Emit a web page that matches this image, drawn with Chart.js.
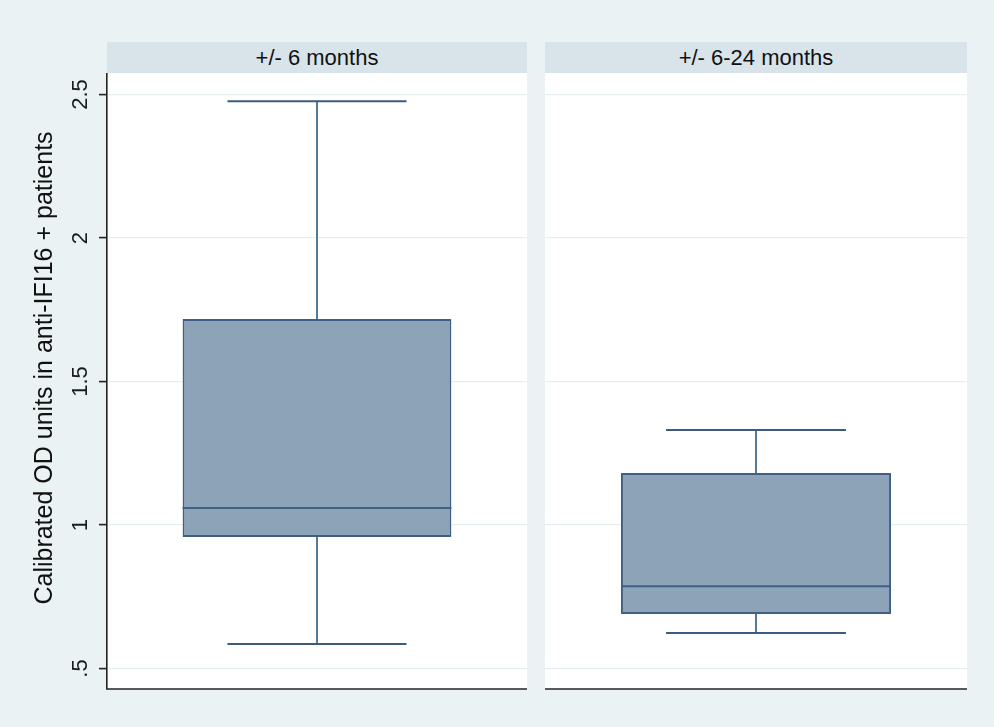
<!DOCTYPE html>
<html>
<head>
<meta charset="utf-8">
<title>Calibrated OD units</title>
<script src="https://cdn.jsdelivr.net/npm/chart.js@4/dist/chart.umd.min.js"></script>
<style>
  html, body { margin: 0; padding: 0; }
  body {
    width: 994px; height: 727px; overflow: hidden; position: relative;
    background: #EAF2F4;
    font-family: "Liberation Sans", Arial, sans-serif;
  }
  .strip {
    position: absolute; top: 42px; height: 31px; line-height: 31px;
    background: #D8E4EA; color: #111; font-size: 22px; text-align: center;
  }
  .panel { position: absolute; top: 73px; }
  canvas { display: block; }
</style>
</head>
<body>
<div class="strip" id="strip0" style="left:107px;width:420px"></div>
<div class="strip" id="strip1" style="left:545px;width:422px"></div>
<div class="panel" style="left:0px"><canvas id="c0" width="527" height="620"></canvas></div>
<div class="panel" style="left:545px"><canvas id="c1" width="422" height="620"></canvas></div>

<script>
// Panels (time windows) and the box-plot statistics for each
const panels = ['+/- 6 months', '+/- 6-24 months'];
const whiskerLow  = [0.585, 0.624];
const quartile1   = [0.958, 0.690];
const median      = [1.059, 0.787];
const quartile3   = [1.718, 1.181];
const whiskerHigh = [2.477, 1.331];

// Value axis
const yTicks = [0.5, 1, 1.5, 2, 2.5];
const yMin = 0.4286;
const yMax = 2.575;
const yTitle = 'Calibrated OD units in anti-IFI16 + patients';

const BOX_FILL = '#8CA3B8';
const BOX_EDGE = '#3F5F84';
const WHISKER = '#56789B';
const CAP = '#3B5B80';
const AXIS = '#222222';

panels.forEach((p, i) => { document.getElementById('strip' + i).textContent = p; });

function fmtTick(v) {
  return String(v).replace(/^0\./, '.');
}

// Draws white plot background, whiskers, caps, median, bottom axis line
function boxParts(i) {
  return {
    id: 'boxParts' + i,
    beforeDraw(chart) {
      const a = chart.chartArea, ctx = chart.ctx;
      ctx.save();
      ctx.fillStyle = '#FFFFFF';
      ctx.fillRect(a.left, a.top, a.right - a.left, a.bottom - a.top);
      ctx.restore();
    },
    beforeDatasetsDraw(chart) {
      const y = chart.scales.y, ctx = chart.ctx;
      const bar = chart.getDatasetMeta(0).data[0];
      const cx = bar.x, capHalf = bar.width * 0.333;
      ctx.save();
      ctx.lineCap = 'butt';
      // stems
      ctx.strokeStyle = WHISKER; ctx.lineWidth = 2;
      ctx.beginPath();
      ctx.moveTo(cx, y.getPixelForValue(whiskerHigh[i]));
      ctx.lineTo(cx, y.getPixelForValue(quartile3[i]));
      ctx.moveTo(cx, y.getPixelForValue(quartile1[i]));
      ctx.lineTo(cx, y.getPixelForValue(whiskerLow[i]));
      ctx.stroke();
      // caps
      ctx.strokeStyle = CAP; ctx.lineWidth = 2;
      ctx.beginPath();
      [whiskerHigh[i], whiskerLow[i]].forEach(v => {
        const py = y.getPixelForValue(v);
        ctx.moveTo(cx - capHalf, py); ctx.lineTo(cx + capHalf, py);
      });
      ctx.stroke();
      ctx.restore();
    },
    afterDatasetsDraw(chart) {
      const y = chart.scales.y, ctx = chart.ctx, a = chart.chartArea;
      const bar = chart.getDatasetMeta(0).data[0];
      const half = bar.width / 2;
      ctx.save();
      ctx.strokeStyle = BOX_EDGE; ctx.lineWidth = 2;
      const my = y.getPixelForValue(median[i]);
      ctx.beginPath();
      ctx.moveTo(bar.x - half, my); ctx.lineTo(bar.x + half, my);
      ctx.stroke();
      // bottom axis line
      ctx.strokeStyle = AXIS; ctx.lineWidth = 1.6;
      ctx.beginPath();
      ctx.moveTo(a.left - (i === 0 ? 0.8 : 0), a.bottom);
      ctx.lineTo(a.right, a.bottom);
      ctx.stroke();
      if (i === 0) {
        // axis title, centred on the panel including its header strip
        ctx.fillStyle = '#111111';
        ctx.font = '25px "Liberation Sans", Arial, sans-serif';
        ctx.textAlign = 'center';
        ctx.textBaseline = 'middle';
        ctx.translate(45, 368 - 73);
        ctx.rotate(-Math.PI / 2);
        ctx.fillText(yTitle, 0, 0);
      }
      ctx.restore();
    }
  };
}

function makeChart(i) {
  const left = i === 0;
  return new Chart(document.getElementById('c' + i), {
    type: 'bar',
    data: {
      labels: [panels[i]],
      datasets: [{
        data: [[quartile1[i], quartile3[i]]],
        backgroundColor: BOX_FILL,
        borderColor: BOX_EDGE,
        borderWidth: 2,
        borderSkipped: false,
        barPercentage: 0.64,
        categoryPercentage: 1
      }]
    },
    options: {
      responsive: false,
      animation: false,
      layout: { padding: { top: 0, bottom: 4, left: 0, right: 0 } },
      plugins: { legend: { display: false }, tooltip: { enabled: false }, title: { display: false } },
      scales: {
        x: { display: false },
        y: {
          min: yMin, max: yMax,
          afterBuildTicks: s => { s.ticks = yTicks.map(v => ({ value: v })); },
          afterFit: s => { s.width = left ? 107 : 0; s.paddingTop = 0; s.paddingBottom = 0; },
          ticks: {
            display: left,
            callback: v => fmtTick(v),
            color: '#1A1A1A',
            font: { size: 22, family: '"Liberation Sans", Arial, sans-serif' },
            minRotation: 90, maxRotation: 90,
            crossAlign: 'center',
            padding: 3
          },
          grid: {
            color: '#E6EEF1', lineWidth: 1.2,
            drawTicks: left, tickLength: 8, tickColor: AXIS, tickWidth: 1.6
          },
          border: { display: left, color: AXIS, width: 1.6 },
          title: { display: false }
        }
      }
    },
    plugins: [boxParts(i)]
  });
}

panels.forEach((p, i) => makeChart(i));
</script>
</body>
</html>
